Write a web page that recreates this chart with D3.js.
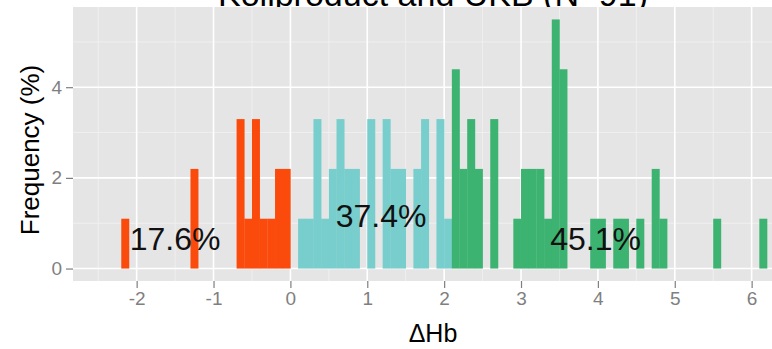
<!DOCTYPE html>
<html lang="en">
<head>
    <meta charset="UTF-8">
    <title>Kollproduct and UKB</title>
    <style>
        body { margin: 0; background: #fff; }
        text { font-family: "Liberation Sans", Arial, sans-serif; }
    </style>
</head>
<body>
    <svg id="chart" width="772" height="349"></svg>
    <script src="https://d3js.org/d3.v7.min.js"></script>
    <script>
        // data: histogram bins (start of 0.1 wide bin) and counts, N = 91
        var total = 91;
        var binWidth = 0.1;
        var lowBins = [-2.2, -1.3, -0.7, -0.6, -0.5, -0.4, -0.3, -0.2, -0.1];
        var lowCounts = [1, 2, 3, 1, 3, 1, 1, 2, 2];
        var midBins = [0.1, 0.2, 0.3, 0.4, 0.5, 0.6, 0.7, 0.8, 1.0, 1.2, 1.3, 1.4, 1.6, 1.7, 1.9, 2.0];
        var midCounts = [1, 1, 3, 1, 2, 3, 2, 2, 3, 3, 2, 2, 2, 3, 3, 1];
        var highBins = [2.1, 2.2, 2.3, 2.4, 2.6, 2.9, 3.0, 3.1, 3.2, 3.3, 3.4, 3.5, 3.9, 4.0, 4.2, 4.3, 4.5, 4.7, 4.8, 5.5, 6.1];
        var highCounts = [4, 2, 3, 2, 3, 1, 2, 2, 2, 1, 5, 4, 1, 1, 1, 1, 1, 2, 1, 1, 1];
        var groupLabels = ["17.6%", "37.4%", "45.1%"];
        var labelX = [-1.5, 1.18, 3.97];
        var labelY = [0.65, 1.15, 0.65];
        var xTicks = [-2, -1, 0, 1, 2, 3, 4, 5, 6];
        var yTicks = [0, 2, 4];
        var colors = ["#FB4B0C", "#78CDCD", "#3CB371"];

        var svg = d3.select("#chart");
        var pLeft = 73, pRight = 793, pTop = 7, pBottom = 281;

        var x = d3.scaleLinear().domain([-2.828, 6.538]).range([pLeft, pRight]);
        var y = d3.scaleLinear().domain([-0.2747, 5.769]).range([pBottom, pTop]);

        // title (partly cut off at the top)
        svg.append("text")
           .attr("x", (pLeft + pRight) / 2)
           .attr("y", 6)
           .attr("text-anchor", "middle")
           .style("font-size", "34px")
           .style("fill", "#000")
           .text("Kollproduct and UKB (N=91)");

        // panel
        svg.append("rect")
           .attr("x", pLeft).attr("y", pTop)
           .attr("width", pRight - pLeft).attr("height", pBottom - pTop)
           .attr("fill", "#E5E5E5");

        var minorX = d3.range(-2.5, 6.6, 1);
        var minorY = [1, 3, 5];
        svg.selectAll(".minor-x").data(minorX).enter().append("line")
           .attr("x1", d => x(d)).attr("x2", d => x(d))
           .attr("y1", pTop).attr("y2", pBottom)
           .attr("stroke", "#F3F3F3").attr("stroke-width", 0.8);
        svg.selectAll(".minor-y").data(minorY).enter().append("line")
           .attr("x1", pLeft).attr("x2", pRight)
           .attr("y1", d => y(d)).attr("y2", d => y(d))
           .attr("stroke", "#F3F3F3").attr("stroke-width", 0.8);
        svg.selectAll(".major-x").data(xTicks).enter().append("line")
           .attr("x1", d => x(d)).attr("x2", d => x(d))
           .attr("y1", pTop).attr("y2", pBottom)
           .attr("stroke", "#fff").attr("stroke-width", 1.6);
        svg.selectAll(".major-y").data(yTicks).enter().append("line")
           .attr("x1", pLeft).attr("x2", pRight)
           .attr("y1", d => y(d)).attr("y2", d => y(d))
           .attr("stroke", "#fff").attr("stroke-width", 1.6);

        // bars
        var groups = [[lowBins, lowCounts], [midBins, midCounts], [highBins, highCounts]];
        groups.forEach(function(g, gi) {
            var bars = g[0].map((b, i) => ({ start: b, pct: g[1][i] / total * 100 }));
            svg.append("g").selectAll("rect").data(bars).enter().append("rect")
               .attr("x", d => x(d.start))
               .attr("width", d => x(d.start + binWidth) - x(d.start) + 0.3)
               .attr("y", d => y(d.pct))
               .attr("height", d => y(0) - y(d.pct))
               .attr("fill", colors[gi]);
        });

        // group percentages
        svg.selectAll(".pct").data(groupLabels).enter().append("text")
           .attr("x", (d, i) => x(labelX[i]))
           .attr("y", (d, i) => y(labelY[i]))
           .attr("text-anchor", "middle")
           .attr("dominant-baseline", "central")
           .style("font-size", "32px")
           .style("fill", "#111")
           .text(d => d);

        // axes
        var xAxis = svg.append("g")
           .attr("transform", "translate(0," + pBottom + ")")
           .call(d3.axisBottom(x).tickValues(xTicks).tickSize(7).tickPadding(4).tickFormat(d3.format("d")));
        var yAxis = svg.append("g")
           .attr("transform", "translate(" + pLeft + ",0)")
           .call(d3.axisLeft(y).tickValues(yTicks).tickSize(7).tickPadding(4).tickFormat(d3.format("d")));
        [xAxis, yAxis].forEach(function(a) {
            a.select(".domain").remove();
            a.selectAll(".tick line").attr("stroke", "#7F7F7F").attr("stroke-width", 1.2);
            a.selectAll(".tick text").attr("fill", "#7F7F7F")
             .style("font-family", "'Liberation Sans', Arial, sans-serif")
             .style("font-size", "19px");
        });
        xAxis.selectAll(".tick text").text(d => d < 0 ? "-" + Math.abs(d) : d);

        svg.append("text")
           .attr("x", (pLeft + pRight) / 2)
           .attr("y", 342)
           .attr("text-anchor", "middle")
           .style("font-size", "25px")
           .text("\u0394Hb");

        svg.append("text")
           .attr("transform", "translate(39," + ((pTop + pBottom) / 2 + 6) + ") rotate(-90)")
           .attr("text-anchor", "middle")
           .style("font-size", "26px")
           .text("Frequency (%)");
    </script>
</body>
</html>
